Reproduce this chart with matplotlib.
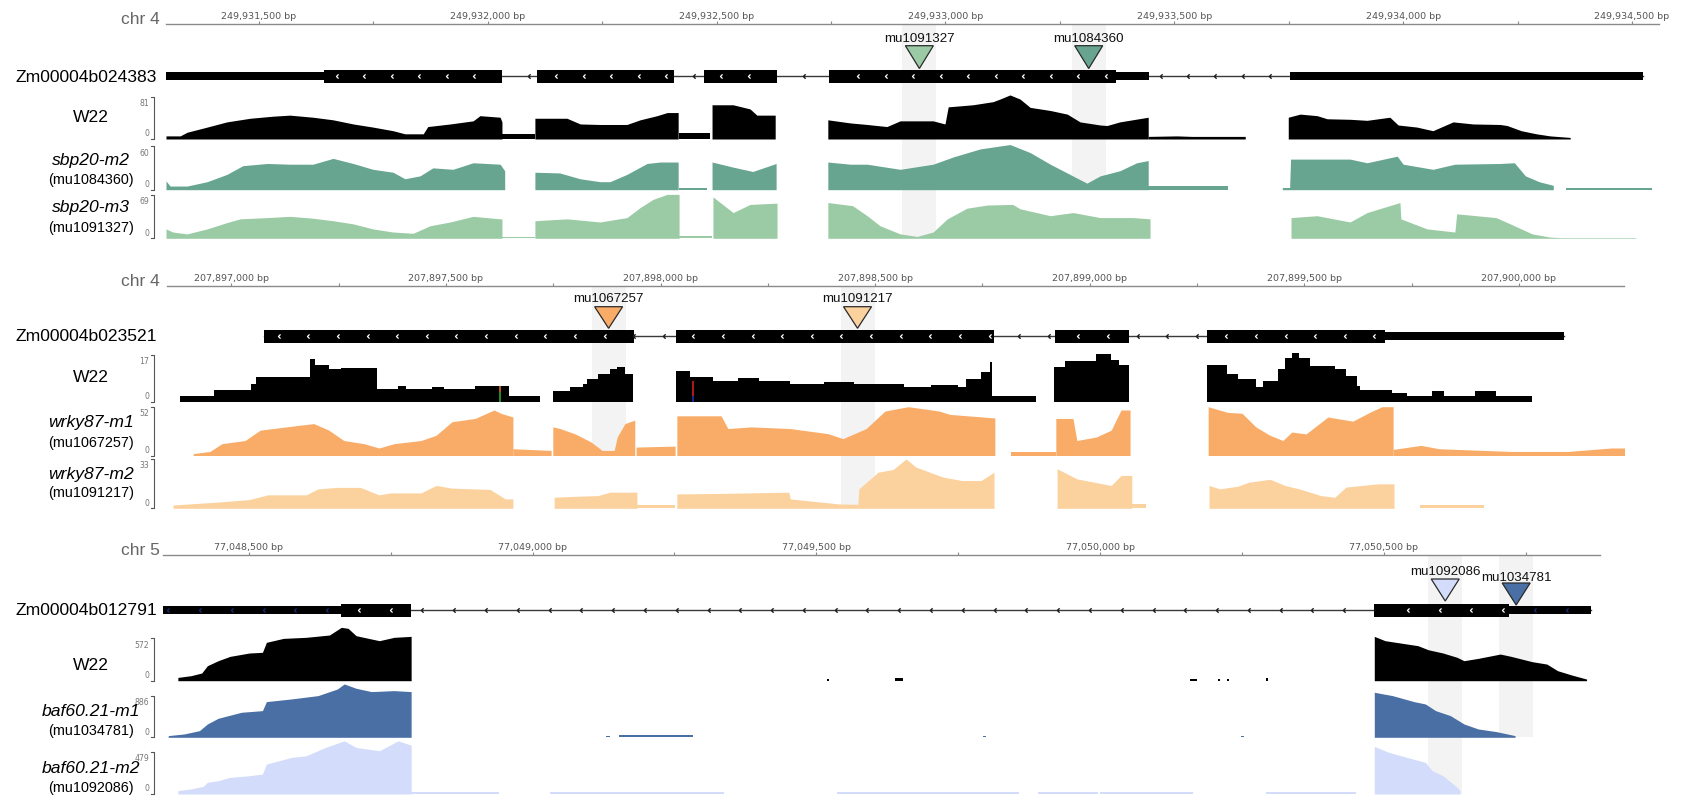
import matplotlib
matplotlib.use("Agg")
import matplotlib.pyplot as plt
import numpy as np
from matplotlib.lines import Line2D
from matplotlib.patches import Polygon
from matplotlib.path import Path
from matplotlib.ticker import FuncFormatter, MultipleLocator

W, H = 1682, 804
SANS = ['Liberation Sans', 'DejaVu Sans']
plt.rcParams['font.family'] = SANS

# coverage: segments of (offset from region origin in bp, read depth)
W22_CHR4A = [
    [(0, 6), (31, 6), (46, 13), (90, 23), (133, 33), (184, 40), (234, 44), (271, 46), (321, 42), (365, 37),
     (409, 29), (452, 23), (496, 16), (522, 10), (562, 10), (572, 24), (621, 29), (671, 35), (686, 45),
     (730, 42), (734, 33)],
    [(734, 10), (806, 10)],
    [(806, 40), (876, 40), (905, 29), (948, 28), (1007, 28), (1036, 37), (1073, 45), (1095, 51), (1119, 51)],
    [(1121, 12), (1189, 12)],
    [(1193, 66), (1239, 66), (1276, 58), (1291, 46), (1331, 46)],
    [(1446, 37), (1495, 31), (1532, 28), (1575, 24), (1604, 35), (1676, 35), (1702, 29), (1709, 62),
     (1763, 66), (1807, 72), (1822, 77), (1844, 85), (1866, 77), (1888, 61), (1932, 55), (1969, 48),
     (1997, 33), (2041, 27), (2056, 26), (2084, 33), (2146, 42)],
    [(2146, 5), (2209, 6), (2242, 5), (2358, 5)],
    [(2452, 42), (2478, 48), (2515, 45), (2537, 39), (2587, 38), (2624, 36), (2674, 42), (2692, 27),
     (2733, 23), (2768, 16), (2812, 33), (2856, 29), (2915, 28), (2930, 26), (2961, 16), (2994, 10),
     (3024, 6), (3068, 3)],
]
SBP20_M2 = [
    [(0, 12), (9, 5), (46, 5), (90, 11), (133, 21), (168, 33), (221, 36), (271, 35), (321, 35), (365, 43),
     (409, 36), (452, 28), (496, 24), (522, 15), (555, 19), (583, 30), (627, 28), (671, 37), (730, 35),
     (740, 26)],
    [(806, 24), (860, 23), (905, 15), (948, 11), (970, 11), (1007, 21), (1051, 36), (1080, 38), (1119, 38)],
    [(1121, 3), (1183, 3)],
    [(1193, 38), (1239, 31), (1282, 25), (1333, 36)],
    [(1446, 38), (1495, 35), (1532, 35), (1604, 28), (1676, 35), (1720, 45), (1779, 56), (1822, 60),
     (1844, 62), (1888, 51), (1932, 35), (1975, 21), (2012, 9), (2041, 19), (2084, 26), (2121, 37),
     (2146, 40)],
    [(2146, 5), (2321, 5)],
    [(2439, 3), (2455, 3), (2457, 42), (2515, 42), (2587, 42), (2624, 37), (2690, 46), (2703, 35),
     (2768, 28), (2816, 35), (2915, 36), (2946, 37), (2970, 19), (3000, 11), (3031, 6)],
    [(3059, 3), (3247, 3)],
]
SBP20_M3 = [
    [(0, 15), (15, 10), (46, 7), (90, 15), (133, 25), (162, 31), (221, 33), (271, 35), (321, 32), (365, 28),
     (409, 23), (452, 15), (496, 10), (540, 8), (577, 20), (621, 26), (671, 35), (730, 31), (734, 31)],
    [(734, 2), (806, 2)],
    [(806, 28), (876, 31), (948, 26), (1007, 33), (1036, 49), (1064, 62), (1095, 70), (1121, 70)],
    [(1121, 3), (1193, 3)],
    [(1195, 66), (1239, 41), (1276, 54), (1335, 56)],
    [(1446, 57), (1500, 52), (1532, 36), (1560, 20), (1604, 7), (1641, 3), (1676, 10), (1707, 31),
     (1750, 48), (1794, 53), (1850, 54), (1866, 47), (1932, 36), (1982, 41), (2041, 33), (2113, 33),
     (2150, 31)],
    [(2458, 33), (2515, 36), (2587, 26), (2624, 41), (2696, 57), (2698, 31), (2755, 15), (2816, 10),
     (2820, 39), (2906, 33), (2946, 20), (2985, 7), (3024, 2), (3048, 1), (3211, 1)],
]

W22_CHR4B = [
    [(30, 2), (110, 4.2), (196, 6.4), (207, 8.8), (333, 15.5), (345, 13.3), (377, 12), (405, 12.3),
     (489, 4.6), (538, 5.8), (557, 4.6), (617, 5.2), (645, 4.6), (718, 5.8), (797, 2.2), (869, 2.2)],
    [(899, 4), (940, 5.2), (969, 6.4), (979, 8.2), (1004, 10), (1032, 11.8), (1049, 12.5), (1067, 10),
     (1086, 10)],
    [(1186, 11.2), (1219, 8.8), (1272, 7.6), (1330, 8.5), (1380, 7.6), (1452, 6.4), (1530, 7), (1600, 6.4),
     (1717, 5.2), (1780, 6), (1843, 5.2), (1862, 8.2), (1897, 10.6), (1918, 14.3), (1922, 14.3)],
    [(1922, 2.2), (2025, 2.2)],
    [(2067, 12.5), (2092, 14.8), (2165, 17.3), (2200, 15), (2218, 13.3), (2241, 13.3)],
    [(2423, 13.3), (2470, 10), (2495, 8.2), (2537, 5.2), (2554, 7.6), (2589, 11.8), (2605, 15.7),
     (2621, 17.5), (2638, 15.7), (2663, 13), (2721, 11.8), (2747, 9.4), (2773, 5.8), (2780, 4.2),
     (2854, 3.1), (2889, 2.2), (2947, 4), (2975, 2.2), (3048, 4), (3097, 2.2), (3180, 2.2)],
]
# mismatch columns in W22: offset, depth, lower-allele depth
W22_CHR4B_SNPS = [(776, 5.8, 3.6), (1226, 7.6, 2.2)]
SNP_COLORS = [('#30b030', '#e8702a'), ('#2030c0', '#e02020')]

WRKY87_M1 = [
    [(61, 2), (100, 4.3), (128, 12.6), (182, 16), (217, 27), (270, 30), (305, 32), (342, 34), (377, 27),
     (412, 16), (459, 12.6), (494, 8), (529, 12.6), (592, 16), (627, 21.5), (664, 36), (718, 39.5),
     (762, 48.5), (778, 45), (806, 41)],
    [(806, 7.2), (895, 5.4)],
    [(899, 30.5), (916, 28.7), (951, 23), (988, 14.4), (1014, 5.4), (1042, 5.4), (1049, 19.7), (1067, 34),
     (1090, 37.7)],
    [(1093, 9), (1184, 10)],
    [(1188, 42.3), (1291, 42.3), (1307, 28.7), (1361, 30.5), (1452, 28.7), (1540, 23.3), (1575, 18),
     (1629, 28.7), (1673, 47.4), (1727, 52), (1799, 47.4), (1824, 43.8), (1929, 40)],
    [(1967, 3.6), (2071, 3.6)],
    [(2071, 39.5), (2111, 39.5), (2120, 16), (2165, 19.7), (2200, 27), (2223, 48.5), (2244, 48.5)],
    [(2426, 52), (2471, 46), (2505, 45), (2537, 30.5), (2570, 21.5), (2600, 16), (2621, 25), (2654, 23),
     (2705, 41), (2763, 36.6), (2805, 46.6), (2831, 52), (2857, 52)],
    [(2857, 6.5), (2922, 10.8), (2964, 7.2), (3132, 4.3), (3264, 4.3), (3365, 8), (3402, 8)],
]
WRKY87_M2 = [
    [(14, 2.2), (110, 4), (191, 5.8), (235, 9), (324, 9), (352, 13), (396, 14), (450, 14), (494, 9),
     (520, 10.3), (592, 10.3), (627, 15.3), (664, 13.5), (753, 12.6), (788, 6.3), (806, 6.3)],
    [(902, 7.4), (948, 8), (1004, 8.5), (1032, 10.8), (1095, 10.8)],
    [(1095, 2.2), (1184, 2.2)],
    [(1188, 9.6), (1300, 10), (1449, 10.8), (1452, 6.3), (1566, 2.9), (1610, 2.7), (1612, 13), (1657, 24.2),
     (1692, 26), (1722, 33), (1745, 27.6), (1808, 20.9), (1852, 18.6), (1897, 18.6), (1927, 24.2)],
    [(2074, 26.5), (2120, 19.7), (2200, 15.3), (2223, 22), (2248, 22)],
    [(2248, 2.7), (2281, 2.7)],
    [(2428, 15.3), (2453, 13), (2495, 14.8), (2521, 17.5), (2570, 19.4), (2605, 15.3), (2638, 13),
     (2689, 8.5), (2721, 7.4), (2747, 14.2), (2822, 16.4), (2859, 16.4)],
    [(2919, 2.2), (3069, 2.2)],
]

W22_CHR5 = [
    [(25, 44), (48, 67), (67, 103), (77, 201), (96, 268), (117, 326), (151, 371), (174, 380), (181, 514),
     (211, 567), (251, 581), (292, 612), (313, 715), (325, 701), (339, 603), (380, 536), (406, 581),
     (436, 594)],
    [(1169, 25), (1172, 25)], [(1288, 40), (1303, 40)], [(1809, 25), (1821, 25)],
    [(1858, 25), (1861, 25)], [(1874, 25), (1877, 25)], [(1943, 30), (1946, 30)],
    [(2133, 594), (2152, 536), (2191, 491), (2210, 469), (2228, 415), (2254, 371), (2279, 313), (2291, 268),
     (2316, 299), (2355, 357), (2374, 326), (2411, 255), (2437, 223), (2456, 134), (2481, 76), (2507, 22)],
]
BAF60_M1 = [
    [(8, 36), (36, 71), (63, 142), (77, 284), (96, 405), (137, 533), (174, 568), (181, 760), (225, 817),
     (272, 888), (306, 1029), (318, 1136), (339, 1044), (366, 973), (406, 994), (436, 973)],
    [(780, 30), (786, 30)], [(803, 45), (933, 45)], [(1444, 25), (1448, 25)], [(1899, 25), (1903, 25)],
    [(2133, 959), (2165, 888), (2203, 760), (2223, 710), (2241, 568), (2267, 462), (2291, 284), (2316, 178),
     (2348, 121), (2381, 36)],
]
BAF60_M2 = [
    [(25, 38), (48, 57), (70, 87), (77, 132), (96, 151), (117, 188), (151, 207), (174, 226), (181, 339),
     (225, 414), (251, 433), (285, 527), (318, 602), (339, 527), (380, 490), (413, 602), (436, 553)],
    [(436, 19), (591, 19)],
    [(680, 19), (746, 19), (746, 26), (891, 26), (891, 19), (988, 19)],
    [(1187, 19), (1231, 19), (1231, 26), (1382, 26), (1382, 19), (1507, 19)],
    [(1541, 19), (1646, 19)],
    [(1650, 19), (1814, 19)],
    [(1943, 19), (2100, 19)],
    [(2133, 539), (2159, 471), (2191, 414), (2223, 358), (2235, 264), (2254, 207), (2279, 75), (2284, 40)],
]

# gene models (absolute bp)
GENE_CHR4A_CDS = [(249931642, 249932031), (249932107, 249932407), (249932472, 249932632),
                  (249932746, 249933372)]
GENE_CHR4A_UTR = [(249931280, 249931642), (249933372, 249933445), (249933753, 249934524)]
GENE_CHR4B_CDS = [(207897076, 207897937), (207898035, 207898776), (207898920, 207899091),
                  (207899273, 207899689)]
GENE_CHR4B_UTR = [(207899689, 207900104)]
GENE_CHR5_CDS = [(77048662, 77048785), (77050483, 77050721)]
GENE_CHR5_UTR = [(77048330, 77048662), (77050721, 77050864)]

GREEN_DARK, GREEN_LIGHT = '#67a590', '#9bcba4'
ORANGE_DARK, ORANGE_LIGHT = '#f9ac67', '#fbd29e'
BLUE_DARK, BLUE_LIGHT = '#4a6fa4', '#d3dcfa'

PANELS = [
    dict(chrom='chr 4', origin=249931297, start=249931297, end=249934559, x0=166, x1=1659,
         ruler_y=25, gene_y=77, gene='Zm00004b024383', cds=GENE_CHR4A_CDS, utr=GENE_CHR4A_UTR,
         chevron_step=60, utr_chevron=None,
         tracks=[
             dict(name='W22', data=W22_CHR4A, vmax=81, color='black', top=98, base=140, label_y=118),
             dict(name='sbp20-m2', allele='mu1084360', data=SBP20_M2, vmax=60, color=GREEN_DARK,
                  top=147, base=190.7, label_y=160, allele_y=180),
             dict(name='sbp20-m3', allele='mu1091327', data=SBP20_M3, vmax=69, color=GREEN_LIGHT,
                  top=196, base=239.3, label_y=208, allele_y=228),
         ],
         inserts=[
             dict(name='mu1091327', pos=249932943, color=GREEN_LIGHT, top=46.7, tip=69.5, label_y=39,
                  shade_to=239.3),
             dict(name='mu1084360', pos=249933313, color=GREEN_DARK, top=46.7, tip=69.5, label_y=39,
                  shade_to=190.7),
         ]),
    dict(chrom='chr 4', origin=207896850, start=207896850, end=207900244, x0=167, x1=1623.6,
         ruler_y=287, gene_y=337, gene='Zm00004b023521', cds=GENE_CHR4B_CDS, utr=GENE_CHR4B_UTR,
         chevron_step=69, utr_chevron=None,
         tracks=[
             dict(name='W22', data=W22_CHR4B, vmax=17, color='black', top=355.7, base=402.7, label_y=378,
                  step=True, snps=W22_CHR4B_SNPS),
             dict(name='wrky87-m1', allele='mu1067257', data=WRKY87_M1, vmax=52, color=ORANGE_DARK,
                  top=407.7, base=456.5, label_y=422.7, allele_y=442.7),
             dict(name='wrky87-m2', allele='mu1091217', data=WRKY87_M2, vmax=33, color=ORANGE_LIGHT,
                  top=460, base=509.3, label_y=475, allele_y=493),
         ],
         inserts=[
             dict(name='mu1067257', pos=207897879, color=ORANGE_DARK, top=307.7, tip=329.3, label_y=299,
                  shade_to=456.5),
             dict(name='mu1091217', pos=207898459, color=ORANGE_LIGHT, top=307.7, tip=329.3, label_y=299,
                  shade_to=509.3),
         ]),
    dict(chrom='chr 5', origin=77048350, start=77048349.5, end=77050880, x0=163.4, x1=1599.6,
         ruler_y=556, gene_y=611, gene='Zm00004b012791', cds=GENE_CHR5_CDS, utr=GENE_CHR5_UTR,
         chevron_step=56, utr_chevron='#1c2a78',
         tracks=[
             dict(name='W22', data=W22_CHR5, vmax=572, color='black', top=639, base=681.7, label_y=665),
             dict(name='baf60.21-m1', allele='mu1034781', data=BAF60_M1, vmax=886, color=BLUE_DARK,
                  top=696.7, base=738.3, label_y=711.7, allele_y=731),
             dict(name='baf60.21-m2', allele='mu1092086', data=BAF60_M2, vmax=479, color=BLUE_LIGHT,
                  top=752.7, base=795, label_y=769, allele_y=788),
         ],
         inserts=[
             dict(name='mu1092086', pos=77050608, color=BLUE_LIGHT, top=580, tip=602, label_y=571.7,
                  shade_to=795),
             dict(name='mu1034781', pos=77050733, color=BLUE_DARK, top=584, tip=606, label_y=577.7,
                  shade_to=738.3),
         ]),
]

CHEVRON = Path([(0.5, 1), (-0.5, 0), (0.5, -1)], [Path.MOVETO, Path.LINETO, Path.LINETO])


def px_axes(fig, x0, x1, y_top, y_bot, zorder=1):
    ax = fig.add_axes([x0 / W, 1 - y_bot / H, (x1 - x0) / W, (y_bot - y_top) / H])
    ax.set_facecolor('none')
    ax.set_zorder(zorder)
    return ax


def fy(y):
    return 1 - y / H


def draw_ruler(fig, p):
    ax = px_axes(fig, p['x0'], p['x1'], p['ruler_y'], p['ruler_y'] + 10, zorder=2)
    ax.set_xlim(p['start'], p['end'])
    ax.set_ylim(0, 1)
    for side in ['left', 'right', 'bottom']:
        ax.spines[side].set_visible(False)
    ax.spines['top'].set_color('#8a8a8a')
    ax.spines['top'].set_linewidth(1)
    ax.set_yticks([])
    ax.xaxis.tick_top()
    ax.xaxis.set_major_locator(MultipleLocator(500))
    ax.xaxis.set_minor_locator(MultipleLocator(250))
    ax.xaxis.set_major_formatter(FuncFormatter(lambda v, _: f'{int(round(v)):,} bp'))
    ax.tick_params(axis='x', which='both', direction='out', length=2.4, width=0.8, color='#8a8a8a',
                   labelsize=6.8, labelcolor='#555555', pad=0.8)
    for lab in ax.get_xticklabels():
        lab.set_family('DejaVu Sans')
    fig.text(160 / W, fy(p['ruler_y'] - 5), p['chrom'], ha='right', va='center', fontsize=12.5,
             color='#666666')


def draw_gene(fig, p):
    y = p['gene_y']
    ax = px_axes(fig, p['x0'], p['x1'], y - 10, y + 10, zorder=2)
    ax.set_xlim(p['start'], p['end'])
    ax.set_ylim(-10, 10)
    ax.axis('off')
    parts = sorted(p['cds'] + p['utr'])
    g0, g1 = parts[0][0], parts[-1][1]
    ax.plot([g0, g1], [0, 0], color='#3a3a3a', lw=1, zorder=0.5)
    ax.broken_barh([(a, b - a) for a, b in p['utr']], (-4, 8), color='black', lw=0, zorder=1)
    ax.broken_barh([(a, b - a) for a, b in p['cds']], (-6.5, 13), color='black', lw=0, zorder=1)

    step = p['chevron_step']
    marks = np.arange(g0 + step / 2, g1, step)
    groups = {'white': [], 'intron': [], 'utr': []}
    for m in marks:
        if any(a + 8 < m < b - 8 for a, b in p['cds']):
            groups['white'].append(m)
        elif any(a <= m <= b for a, b in p['utr']):
            groups['utr'].append(m)
        elif not any(a <= m <= b for a, b in p['cds']):
            groups['intron'].append(m)
    styles = {'white': ('white', 3.0, 0.9), 'intron': ('#1a1a1a', 3.2, 1.0),
              'utr': (p['utr_chevron'], 3.0, 0.9)}
    for key, xs in groups.items():
        color, size, width = styles[key]
        if not xs or color is None:
            continue
        ax.plot(xs, np.zeros(len(xs)), ls='none', marker=CHEVRON, ms=size, mec=color, mew=width,
                mfc='none', zorder=2)
    fig.text(157 / W, fy(y), p['gene'], ha='right', va='center', fontsize=12.6)


def draw_track(fig, p, t):
    top, base = t['top'], t['base']
    head = 14
    ax = px_axes(fig, p['x0'], p['x1'], top - head, base, zorder=1)
    ax.set_xlim(p['start'], p['end'])
    ax.set_ylim(0, t['vmax'] * (base - top + head) / (base - top))
    ax.axis('off')
    for seg in t['data']:
        xs = p['origin'] + np.array([s[0] for s in seg], dtype=float)
        ys = np.array([s[1] for s in seg], dtype=float)
        ax.fill_between(xs, 0, ys, color=t['color'], lw=0, step='post' if t.get('step') else None)
    for (off, depth, low), (c_low, c_high) in zip(t.get('snps', []), SNP_COLORS):
        ax.vlines(p['origin'] + off, 0, low, color=c_low, lw=1.1)
        ax.vlines(p['origin'] + off, low, depth, color=c_high, lw=1.1)

    # range bracket and its labels
    bx = 154
    fig.add_artist(Line2D([(bx - 3) / W, bx / W, bx / W, (bx - 3) / W], [fy(top), fy(top), fy(base), fy(base)],
                          color='#555555', lw=0.8))
    fig.text(149 / W, fy(top + 6), str(t['vmax']), ha='right', va='center', fontsize=5.6,
             color='#777777', family='DejaVu Sans')
    fig.text(149 / W, fy(base - 6), '0', ha='right', va='center', fontsize=5.6, color='#777777',
             family='DejaVu Sans')

    if 'allele' in t:
        fig.text(91 / W, fy(t['label_y']), t['name'], ha='center', va='center', fontsize=12.6,
                 style='italic')
        fig.text(91 / W, fy(t['allele_y']), f"({t['allele']})", ha='center', va='center', fontsize=10.4)
    else:
        fig.text(91 / W, fy(t['label_y']), t['name'], ha='center', va='center', fontsize=12.6)


def draw_inserts(fig, p):
    ax = fig.add_axes([p['x0'] / W, 0, (p['x1'] - p['x0']) / W, 1])
    ax.set_facecolor('none')
    ax.set_zorder(0)
    ax.set_xlim(p['start'], p['end'])
    ax.set_ylim(H, 0)
    ax.axis('off')
    bp_per_px = (p['end'] - p['start']) / (p['x1'] - p['x0'])
    for ins in p['inserts']:
        x = ins['pos']
        half = 17 * bp_per_px
        ax.fill_between([x - half, x + half], p['ruler_y'] + 1, ins['shade_to'], color='#f3f3f3', lw=0)
    for ins in p['inserts']:
        x = ins['pos']
        hw = 14 * bp_per_px
        ax.add_patch(Polygon([(x - hw, ins['top']), (x + hw, ins['top']), (x, ins['tip'])], closed=True,
                             facecolor=ins['color'], edgecolor='#2a2a2a', lw=0.9))
        ax.text(x, ins['label_y'], ins['name'], ha='center', va='center', fontsize=9.6, color='#111111')


def main():
    fig = plt.figure(figsize=(W / 100, H / 100), dpi=100)
    fig.patch.set_facecolor('white')
    for p in PANELS:
        draw_inserts(fig, p)
        draw_ruler(fig, p)
        draw_gene(fig, p)
        for t in p['tracks']:
            draw_track(fig, p, t)
    fig.savefig('out.png', dpi=100, facecolor='white')


if __name__ == '__main__':
    main()
